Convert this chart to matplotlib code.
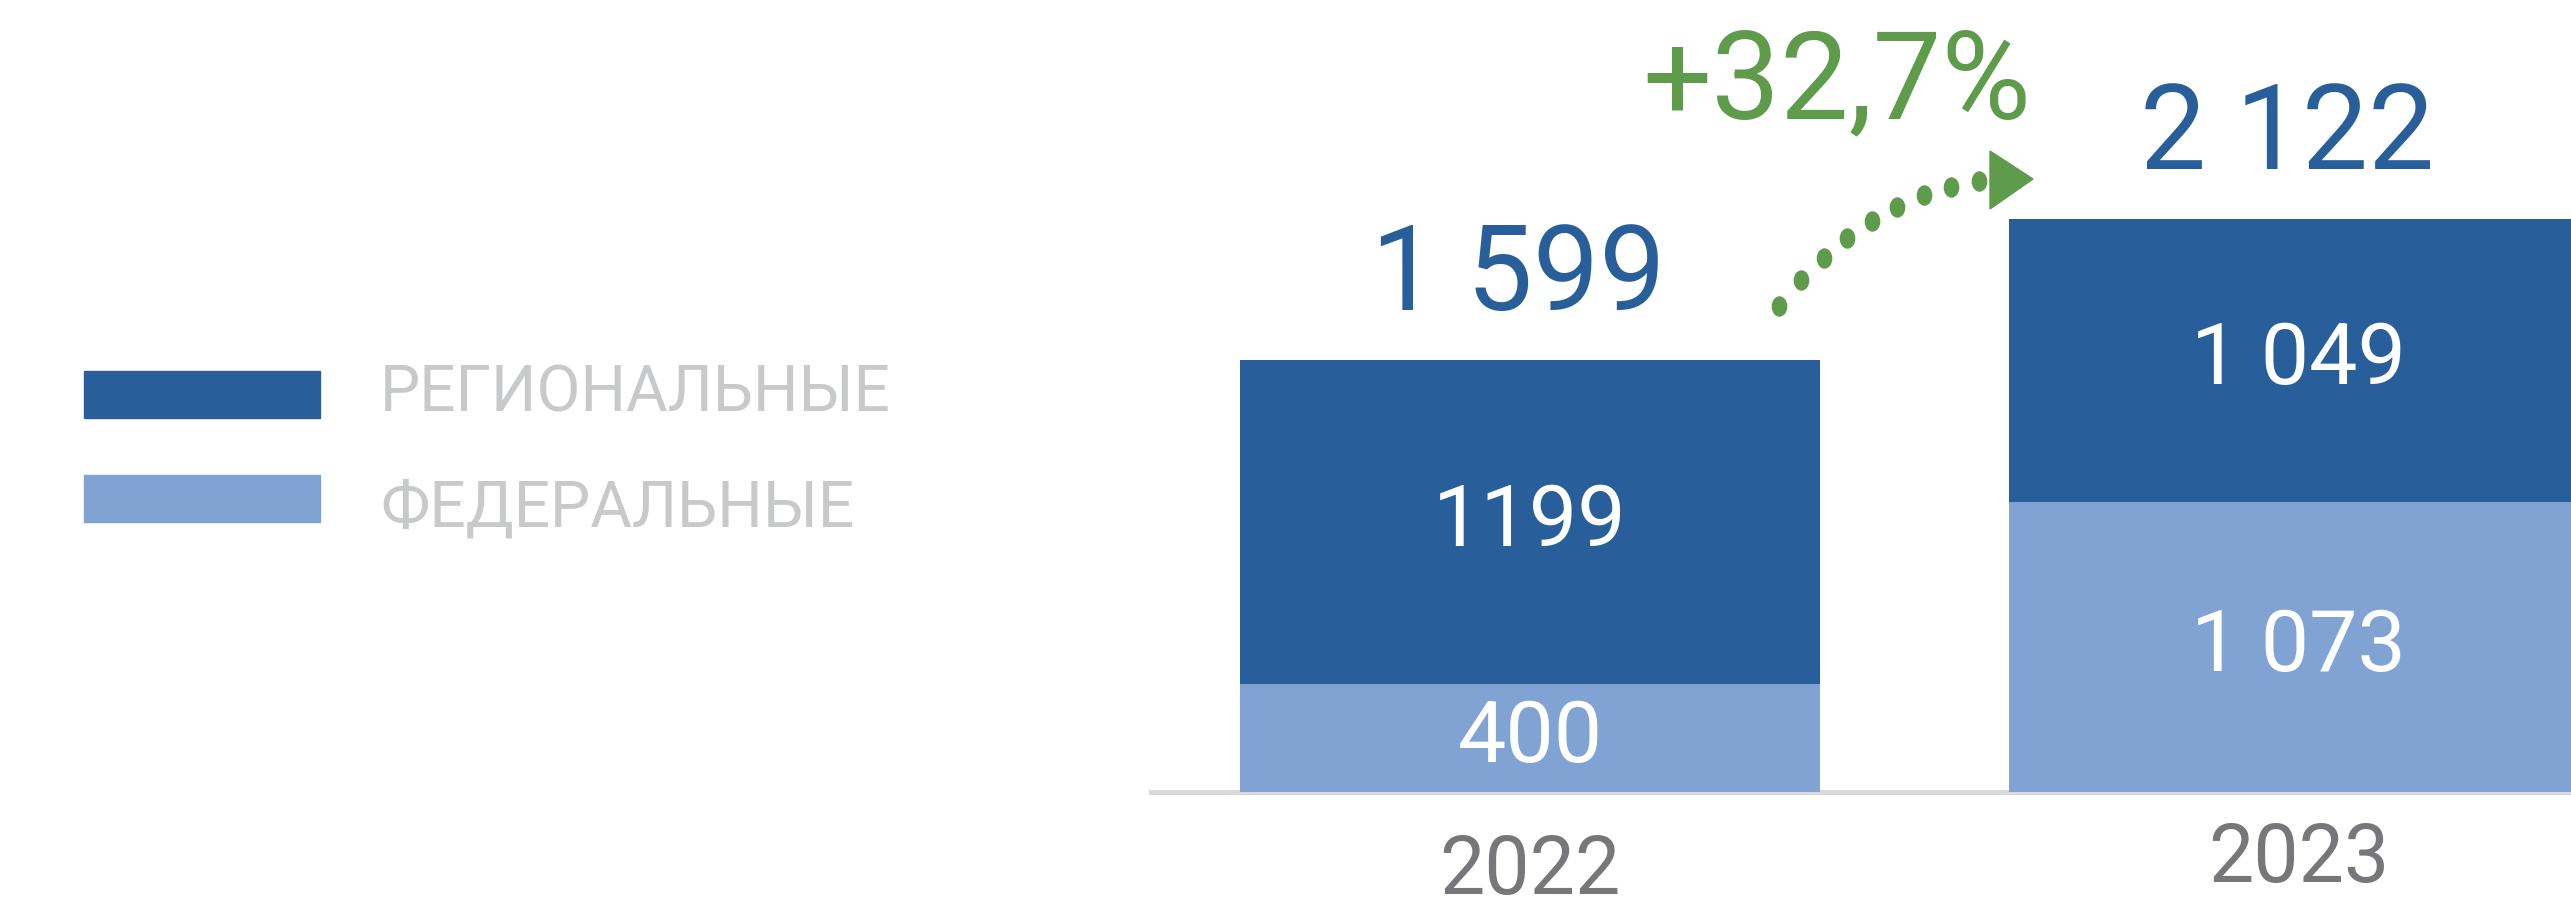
import numpy as np
import matplotlib
matplotlib.use("Agg")
import matplotlib.pyplot as plt
import matplotlib.transforms as mtransforms
from matplotlib.patches import Rectangle, Polygon
from matplotlib.path import Path

years = ["2022", "2023"]
federal = np.array([400, 1073])
regional = np.array([1199, 1049])
reg_labels = ["1199", "1 049"]
fed_labels = ["400", "1 073"]
legend_names = ["РЕГИОНАЛЬНЫЕ", "ФЕДЕРАЛЬНЫЕ"]

DARK = "#285f9a"
LIGHT = "#81a3d3"
GREEN = "#5e9c4c"
LEG_GRAY = "#c8c9cb"
YEAR_GRAY = "#77777b"
W, H = 2571, 909

plt.rcParams['font.family'] = ['Roboto', 'DejaVu Sans']


def fx(px):
    return px / W


def fy(py):
    return 1 - py / H


def fmt(v):
    return f"{v:,}".replace(",", " ")


def main():
    fig = plt.figure(figsize=(W / 100, H / 100), dpi=100)
    ax = fig.add_axes([0, 0, 1, 1])
    ax.axis('off')

    x = np.arange(len(years))
    width = 0.754
    ax.axhline(0, xmin=0.4477, xmax=1, color="#d9d9d9", lw=3.6, zorder=0)
    ax.bar(x, federal, width=width, color=LIGHT, zorder=2)
    ax.bar(x, regional, bottom=federal, width=width, color=DARK, zorder=2)
    ax.set_xlim(-1.99, 1.354)
    ax.set_ylim(-433, 2933)

    totals = federal + regional
    for i in range(len(years)):
        ax.text(x[i], federal[i] / 2, fed_labels[i], ha='center', va='center',
                color='white', fontsize=62, zorder=3)
        ax.text(x[i], federal[i] + regional[i] / 2, reg_labels[i], ha='center',
                va='center', color='white', fontsize=62, zorder=3)
        ax.annotate(fmt(int(totals[i])), (x[i] - 0.015, totals[i]), xytext=(0, 36),
                    textcoords='offset points', ha='center', va='baseline',
                    color=DARK, fontsize=85)

    # year labels under the baseline
    trans = mtransforms.blended_transform_factory(ax.transData, fig.transFigure)
    year_y = [fy(872), fy(860)]
    for i, yr in enumerate(years):
        ax.text(x[i], year_y[i], yr, transform=trans, ha='center', va='center',
                color=YEAR_GRAY, fontsize=58)

    # growth label and dotted arrow
    growth = (totals[1] / totals[0] - 1) * 100
    fig.text(fx(1837), fy(118), f"+{growth:.1f}%".replace('.', ','),
             ha='center', va='baseline', color=GREEN, fontsize=88)

    p0 = np.array([1779, 306])
    c = np.array([1865, 198])
    p2 = np.array([1979, 181])
    t = np.linspace(0, 1, 9)[:, None]
    pts = (1 - t) ** 2 * p0 + 2 * (1 - t) * t * c + t ** 2 * p2
    circ = Path.unit_circle()
    ell = Path(circ.vertices * [0.75, 1.0], circ.codes)
    fig.add_artist(plt.Line2D(fx(pts[:, 0]), fy(pts[:, 1]), ls='none',
                              marker=ell, ms=13.7, color=GREEN,
                              transform=fig.transFigure))
    tri = [(fx(1990), fy(151)), (fx(1990), fy(209)), (fx(2033), fy(179))]
    fig.add_artist(Polygon(tri, closed=True, color=GREEN,
                           transform=fig.transFigure))

    # legend
    for name, col, top, ymid in zip(legend_names, [DARK, LIGHT], [371, 475], [393, 508]):
        fig.add_artist(Rectangle((fx(84), fy(top + 47)), fx(236), 47 / H,
                                 color=col, transform=fig.transFigure))
        fig.text(fx(380), fy(ymid), name, ha='left', va='center',
                 color=LEG_GRAY, fontsize=46)

    fig.savefig('out.png', dpi=100)
    plt.close(fig)


if __name__ == '__main__':
    main()
